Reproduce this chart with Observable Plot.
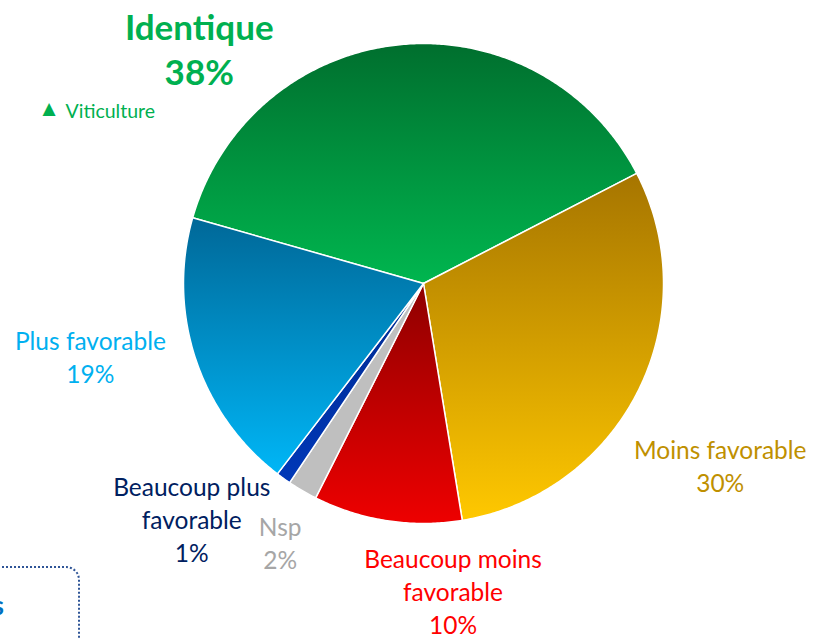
<!DOCTYPE html>
<html><head><meta charset="utf-8">
<script src="https://cdn.jsdelivr.net/npm/d3@7"></script>
<script src="https://cdn.jsdelivr.net/npm/@observablehq/plot@0.6"></script>
<style>
body{margin:0;background:#fff;overflow:hidden;}
#wrap{position:relative;width:815px;height:638px;overflow:hidden;background:#fff;}
#box{position:absolute;left:-220px;top:566px;width:300px;height:140px;border:2px dotted #2f5597;border-radius:14px;box-sizing:border-box;}
#s{position:absolute;right:811px;top:589px;font:bold 26px Lato,sans-serif;color:#0070c0;}
</style></head>
<body><div id="wrap"><div id="box"></div><div id="s">s</div></div>
<script>
const categories = ["Identique","Moins favorable","Beaucoup moins favorable","Nsp","Beaucoup plus favorable","Plus favorable"];
const values = [38,30,10,2,1,19];
const valueLabels = ["38%","30%","10%","2%","1%","19%"];
const labelLines = ["Identique","Moins favorable","Beaucoup moins\nfavorable","Nsp","Beaucoup plus\nfavorable","Plus favorable"];
const gradTop = ["#006f2e","#a67500","#8e0000","#bfbfbf","#002a90","#006898"];
const gradBottom = ["#00b64f","#ffc800","#ee0000","#bfbfbf","#0038b8","#00b6f6"];
const labelColors = ["#00b050","#bf9000","#ff0000","#a6a6a6","#002060","#00b0f0"];
const labelRadius = [1.355,1.45,1.285,1.232,1.375,1.42];
const labelAngleDeg = [-43.6,121.5,174.5,209,224.6,257.8];
const legendSymbol = "▲";
const legendText = "Viticulture";

const deg = Math.PI/180;
const startDeg = -74.1;
const arcs = d3.pie().sort(null).startAngle(startDeg*deg).endAngle(startDeg*deg + 2*Math.PI)(values);

// polygon points for each slice, sampled along the arc
const pts = [];
arcs.forEach((a, i) => {
  const cat = categories[i];
  const fill = `url(#grad${i})`;
  pts.push({cat, fill, x: 0, y: 0});
  const n = Math.max(2, Math.ceil((a.endAngle - a.startAngle) / (0.5*deg)));
  for (let k = 0; k <= n; k++) {
    const t = a.startAngle + (a.endAngle - a.startAngle) * k / n;
    pts.push({cat, fill, x: Math.sin(t), y: Math.cos(t)});
  }
  pts.push({cat, fill, x: 0, y: 0});
});

const labels = categories.map((c, i) => ({
  text: labelLines[i] + "\n" + valueLabels[i],
  color: labelColors[i],
  x: labelRadius[i] * Math.sin(labelAngleDeg[i]*deg),
  y: labelRadius[i] * Math.cos(labelAngleDeg[i]*deg)
}));

const chart = Plot.plot({
  width: 815, height: 638,
  margin: 0,
  style: {background: "transparent", overflow: "visible"},
  x: {domain: [-1, 1], range: [183, 663], axis: null},
  y: {domain: [-1, 1], range: [523, 43], axis: null},
  color: {type: "identity"},
  marks: [
    Plot.line(pts, {x: "x", y: "y", z: "cat", fill: "fill", stroke: "white", strokeWidth: 1.5, strokeLinejoin: "round"}),
    Plot.text(labels.slice(1), {x: "x", y: "y", text: "text", fill: "color", fontSize: 24.5, lineHeight: 1.35, fontFamily: "Lato", textAnchor: "middle", lineAnchor: "middle"}),
    Plot.text(labels.slice(0, 1), {x: "x", y: "y", text: "text", fill: "color", fontSize: 35, fontWeight: "bold", lineHeight: 1.29, fontFamily: "Lato", textAnchor: "middle", lineAnchor: "middle"}),
    Plot.text([legendSymbol], {frameAnchor: "top-left", dx: 42, dy: 108.5, text: d => d, fill: "#00b050", fontSize: 17, fontFamily: "DejaVu Sans", textAnchor: "start", lineAnchor: "middle"}),
    Plot.text([legendText], {frameAnchor: "top-left", dx: 65, dy: 111, text: d => d, fill: "#00b050", fontSize: 19.5, fontFamily: "Lato", textAnchor: "start", lineAnchor: "middle"})
  ]
});

// gradient definitions for slice fills
const ns = "http://www.w3.org/2000/svg";
const defs = document.createElementNS(ns, "defs");
categories.forEach((c, i) => {
  const g = document.createElementNS(ns, "linearGradient");
  g.setAttribute("id", `grad${i}`);
  g.setAttribute("x1", "0"); g.setAttribute("y1", "0");
  g.setAttribute("x2", "0"); g.setAttribute("y2", "1");
  [[0, gradTop[i]], [1, gradBottom[i]]].forEach(([o, col]) => {
    const s = document.createElementNS(ns, "stop");
    s.setAttribute("offset", o);
    s.setAttribute("stop-color", col);
    g.appendChild(s);
  });
  defs.appendChild(g);
});
chart.insertBefore(defs, chart.firstChild);
chart.style.position = "absolute";
chart.style.left = "0"; chart.style.top = "0";
document.getElementById("wrap").insertBefore(chart, document.getElementById("box"));
</script>
</body></html>
